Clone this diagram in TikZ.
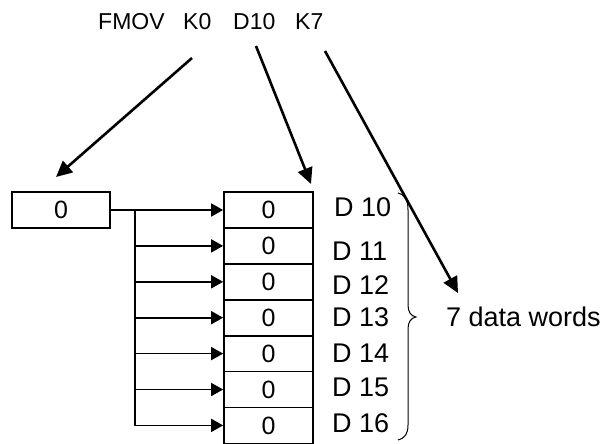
\documentclass[tikz,border=0pt]{standalone}
\usepackage{fontspec}
\setmainfont{Liberation Sans}
\usetikzlibrary{arrows.meta}
\begin{document}
\begin{tikzpicture}[x=1pt,y=-1pt,
  bigarrow/.style={line width=2.6pt,-{Triangle[length=16pt,width=15pt]}},
  smallarrow/.style={line width=1.7pt,-{Triangle[length=12pt,width=13pt]}},
  cell/.style={draw,line width=1.7pt,minimum width=89pt,minimum height=36pt,inner sep=0pt,font=\fontsize{25}{25}\selectfont},
  srcbox/.style={draw,line width=1.7pt,minimum width=98pt,minimum height=36pt,inner sep=0pt,font=\fontsize{25}{25}\selectfont},
  toptxt/.style={anchor=base west,inner sep=0pt,font=\fontsize{23}{23}\selectfont},
  lbl/.style={anchor=west,inner sep=0pt,font=\fontsize{27}{27}\selectfont}]
\useasboundingbox (0,0) rectangle (606,444);
% top instruction
\node[toptxt] (fmov) at (98,30) {FMOV};
\node[toptxt] (k0) at (183,30) {K0};
\node[toptxt] (d10) at (233,30) {D10};
\node[toptxt] (k7) at (295,30) {K7};
% source box
\node[srcbox] (src) at (61,210) {0};
% target cells
\foreach \i in {0,...,6} {
  \node[cell] (t\i) at (268.5,{210+35.9*\i}) {0};
}
% labels
\node[lbl] (l0) at (334,207) {D 10};
\node[lbl] (l1) at (332,251) {D 11};
\node[lbl] (l2) at (332,285) {D 12};
\node[lbl] (l3) at (332,317) {D 13};
\node[lbl] (l4) at (332,353) {D 14};
\node[lbl] (l5) at (332,387) {D 15};
\node[lbl] (l6) at (332,423) {D 16};
\node[lbl] (words) at (446,317) {7 data words};
% big arrows
\coordinate (a1s) at (192,58);
\coordinate (a1e) at (56,177);
\coordinate (a2s) at (256,46);
\coordinate (a2e) at (311,184);
\coordinate (a3s) at (325,51);
\coordinate (a3e) at (458,293);
\draw[bigarrow] (a1s) -- (a1e);
\draw[bigarrow] (a2s) -- (a2e);
\draw[bigarrow] (a3s) -- (a3e);
% distribution
\coordinate (bus) at (135,210);
\draw[smallarrow] (src.east) -- (t0.west);
\draw[line width=1.7pt] (bus) -- (135,{210+35.9*6});
\foreach \i in {1,...,6} {
  \draw[smallarrow] (bus) |- (t\i.west);
}
% brace
\draw[line width=1pt] (398,193) .. controls (405,195) and (408,200) .. (408,210)
  -- (408,305) .. controls (408,312) and (411,316) .. (416,317)
  .. controls (411,318) and (408,322) .. (408,329)
  -- (408,425) .. controls (408,434) and (405,438) .. (398,440);
\end{tikzpicture}
\end{document}
